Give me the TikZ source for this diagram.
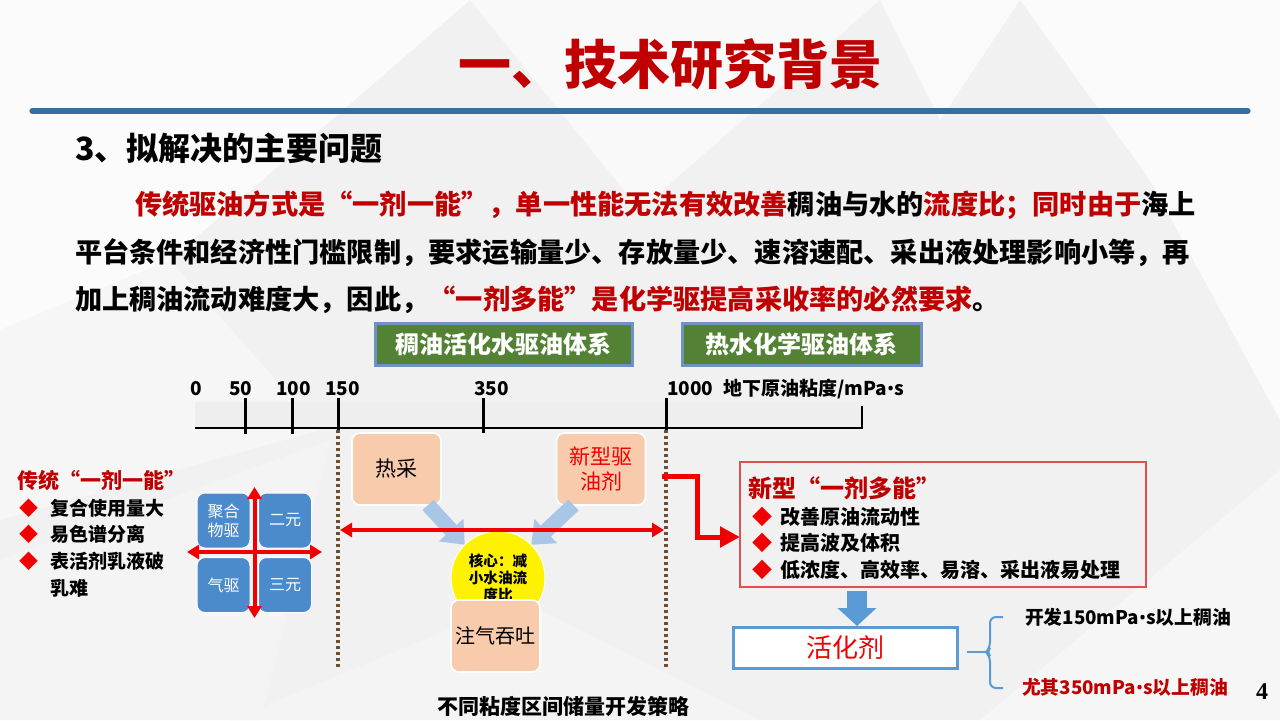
\documentclass[tikz,border=0pt]{standalone}
\usepackage{fontspec}
\setmainfont{Noto Sans CJK SC}
\newfontfamily\serifnum{Liberation Serif}
\newfontfamily\latf{Noto Sans}
\newcommand{\bdot}{{\latf •}}
\usetikzlibrary{arrows.meta,calc}
\definecolor{tred}{HTML}{C00000}
\definecolor{bred}{HTML}{F00000}
\definecolor{lineblue}{HTML}{3A6C9C}
\definecolor{gfill}{HTML}{548235}
\definecolor{gborder}{HTML}{6C93C4}
\definecolor{peach}{HTML}{F8CBAD}
\definecolor{qblue}{HTML}{4B8ACB}
\definecolor{abox}{HTML}{5B9BD5}
\definecolor{larrow}{HTML}{A9C6E6}
\definecolor{dotbrown}{HTML}{6E4E30}
\definecolor{rboxc}{HTML}{E05050}
\definecolor{bgbase}{HTML}{F1F1F1}
\begin{document}
\begin{tikzpicture}[x=0.5pt,y=-0.5pt,
  every node/.style={inner sep=0pt,outer sep=0pt},
  body/.style={anchor=west,font=\bfseries\fontsize{13.6}{16}\selectfont},
  greenbox/.style={draw=gborder,line width=1.5pt,fill=gfill,minimum height=21pt,text=white,font=\bfseries\fontsize{12}{14}\selectfont},
  peachbox/.style={rounded corners=4pt,fill=peach,draw=white,line width=0.8pt,minimum width=44.5pt,minimum height=36pt,align=center},
  quadbox/.style={rounded corners=4pt,fill=qblue,draw=white,line width=0.5pt,minimum width=26.5pt,minimum height=27.5pt,text=white,align=center,font=\fontsize{8}{9.5}\selectfont},
  redarrow/.style={draw=bred,line width=2pt,{Triangle[length=6pt 0 0,width=7pt 0 0]}-{Triangle[length=6pt 0 0,width=7pt 0 0]}},
  dotline/.style={draw=dotbrown,line width=1.6pt,dash pattern=on 1.5pt off 1.5pt},
  bluearrow/.style={draw=larrow,line width=7.5pt,-{Triangle[length=10pt 0 0,width=16pt 0 0]}},
  tick/.style={draw=black,line width=1.5pt},
  axlabel/.style={anchor=west,font=\bfseries\fontsize{9.5}{11}\selectfont},
  lbullet/.style={anchor=west,font=\bfseries\fontsize{9.5}{11}\selectfont},
  rbullet/.style={anchor=west,font=\bfseries\fontsize{10}{12}\selectfont},
  rlabel/.style={anchor=west,font=\bfseries\fontsize{9.4}{11}\selectfont},
  bracecol/.style={draw=abox,line width=1pt}
]
\useasboundingbox (0,0) rectangle (1280,720);
% background facets
\fill[bgbase] (0,0) rectangle (1280,720);
\fill[white!97!gray] (0,0) -- (470,0) -- (170,260) -- (0,330) -- cycle;
\fill[white!95!gray] (470,0) -- (880,0) -- (640,210) -- cycle;
\fill[white!97!gray] (1020,0) -- (1280,0) -- (1280,420) -- (1150,180) -- cycle;
\fill[white!93!gray] (0,330) -- (170,260) -- (320,430) -- (0,520) -- cycle;
\fill[white!91!gray] (0,560) -- (330,440) -- (260,720) -- (0,720) -- cycle;
\fill[white!91!gray] (230,720) -- (520,600) -- (760,720) -- cycle;
\fill[white!93!gray] (980,720) -- (1280,470) -- (1280,720) -- cycle;
\fill[white!96!gray] (880,0) -- (1020,0) -- (940,120) -- cycle;

% title
\node[font=\bfseries\fontsize{26.5}{30}\selectfont,text=tred] (title) at (670,64) {一、技术研究背景};
\draw[lineblue,line width=2.6pt,line cap=round] (32,111) -- (1248,111);
\node[anchor=west,font=\bfseries\fontsize{16}{19}\selectfont] (sub) at (75,148) {3、拟解决的主要问题};

% paragraph
\node[body] (p1) at (135,205) {\textcolor{tred}{传统驱油方式是“一剂一能”，单一性能无法有效改善}稠油与水的\textcolor{tred}{流度比；同时由于}海上};
\node[body] (p2) at (75,253) {平台条件和经济性门槛限制，要求运输量少、存放量少、速溶速配、采出液处理影响小等，再};
\node[body] (p3) at (75,300) {加上稠油流动难度大，因此，\textcolor{tred}{“一剂多能”是化学驱提高采收率的必然要求}。};

% green boxes
\node[greenbox,minimum width=128.5pt] (g1) at (503.5,344) {稠油活化水驱油体系};
\node[greenbox,minimum width=119.5pt] (g2) at (801.5,344) {热水化学驱油体系};

% axis
\fill[white!87!gray] (195,402) rectangle (862,428);
\draw[black,line width=1pt] (195,428) -- (862,428) -- (862,406);
\draw[tick] (245,398) -- (245,434);
\draw[tick] (292,398) -- (292,434);
\draw[tick] (338,398) -- (338,430);
\draw[tick] (483,398) -- (483,433);
\draw[tick] (666,398) -- (666,430);
\node[axlabel] (a0) at (190,389) {0};
\node[axlabel] (a50) at (229,389) {50};
\node[axlabel] (a100) at (276,389) {100};
\node[axlabel] (a150) at (325,389) {150};
\node[axlabel] (a350) at (474,389) {350};
\node[axlabel] (a1000) at (667,389) {1000\hspace{5pt}地下原油粘度/mPa\bdot s};

% dotted lines
\coordinate (dl1) at (338,430);
\coordinate (dl2) at (338,667);
\coordinate (dr1) at (666,430);
\coordinate (dr2) at (666,667);
\draw[dotline] (dl1) -- (dl2);
\draw[dotline] (dr1) -- (dr2);

% peach boxes
\node[peachbox,font=\fontsize{10.5}{12.5}\selectfont] (hc) at (396.5,469) {热采};
\node[peachbox,text=bred,font=\fontsize{10.5}{12.5}\selectfont] (nx) at (601,469) {新型驱\\油剂};

% core circle
\node[circle,fill=yellow,draw=white,line width=0.5pt,minimum size=47pt,align=center,font=\bfseries\fontsize{7.3}{8.4}\selectfont] (core) at (498,578) {核心：减\\小水油流\\度比};

% blue arrows
\draw[bluearrow] ($(hc.south east)+(-13,0)$) -- (core.135);
\draw[bluearrow] ($(nx.south west)+(17,0)$) -- (core.45);

% red double arrow
\coordinate (ra1) at (340,530);
\coordinate (ra2) at (664,530);
\draw[redarrow] (ra1) -- (ra2);

\node[peachbox,font=\fontsize{10}{12}\selectfont] (zq) at (495.5,636) {注气吞吐};

% caption
\node[font=\bfseries\fontsize{10.5}{12.5}\selectfont] (cap) at (563,706) {不同粘度区间储量开发策略};

% left list
\node[anchor=west,text=tred,font=\bfseries\fontsize{10.5}{12.5}\selectfont] (lt) at (18,480) {传统“一剂一能”};
\node[lbullet] (l1) at (19,508) {\textcolor{bred}{◆}\hspace{6pt}复合使用量大};
\node[lbullet] (l2) at (19,534) {\textcolor{bred}{◆}\hspace{6pt}易色谱分离};
\node[lbullet] (l3) at (19,561) {\textcolor{bred}{◆}\hspace{6pt}表活剂乳液破};
\node[lbullet] (l4) at (19,588) {\phantom{◆}\hspace{6pt}乳难};

% quad
\node[quadbox] (jh) at (223.5,520.5) {聚合\\物驱};
\node[quadbox] (ey) at (285,520.5) {二元};
\node[quadbox] (qq) at (223.5,585) {气驱};
\node[quadbox] (sy) at (285,585) {三元};
\coordinate (qv1) at (254.5,487);
\coordinate (qv2) at (254.5,618);
\coordinate (qh1) at (187,552);
\coordinate (qh2) at (322,552);
\draw[redarrow] (qv1) -- (qv2);
\draw[redarrow] (qh1) -- (qh2);

% red box
\node[draw=rboxc,line width=0.8pt,minimum width=203pt,minimum height=62.5pt] (rbox) at (943,524.5) {};
\node[anchor=west,text=tred,font=\bfseries\fontsize{12}{14}\selectfont] (rt) at (748,488) {新型“一剂多能”};
\node[rbullet] (r1) at (752,517) {\textcolor{bred}{◆}\hspace{4pt}改善原油流动性};
\node[rbullet] (r2) at (752,543) {\textcolor{bred}{◆}\hspace{4pt}提高波及体积};
\node[rbullet] (r3) at (752,570) {\textcolor{bred}{◆}\hspace{4pt}低浓度、高效率、易溶、采出液易处理};

% elbow arrow
\coordinate (eb) at (662,476);
\draw[draw=bred,line width=2.5pt,-{Triangle[length=10pt 0 0,width=10pt 0 0]}] (eb) -- (697,476) -- (697,537) -- (rbox.west |- 0,537);

% activator box
\node[draw=abox,line width=1.5pt,fill=white,minimum width=112pt,minimum height=20.5pt,text=bred,font=\fontsize{13}{15}\selectfont] (hh) at (845,647.5) {活化剂};
\draw[draw=abox,line width=10pt,-{Triangle[length=9pt 0 0,width=19pt 0 0]}] ($(hh.north)+(12,-36)$) -- ($(hh.north)+(12,-1)$);

% brace
\draw[bracecol,rounded corners=3pt] (1003,617) -- (990,617) -- (990,648) -- (986,652) -- (990,656) -- (990,688) -- (1003,688);
\draw[bracecol] ($(hh.east)+(10,4.5)$) -- (986,652);

\node[rlabel] (t150) at (1025,617) {开发150mPa\bdot s以上稠油};
\node[rlabel,text=tred] (t350) at (1022,687) {尤其350mPa\bdot s以上稠油};
\node[font=\serifnum\bfseries\fontsize{12}{14}\selectfont] (pg) at (1262,692) {4};
\end{tikzpicture}
\end{document}
